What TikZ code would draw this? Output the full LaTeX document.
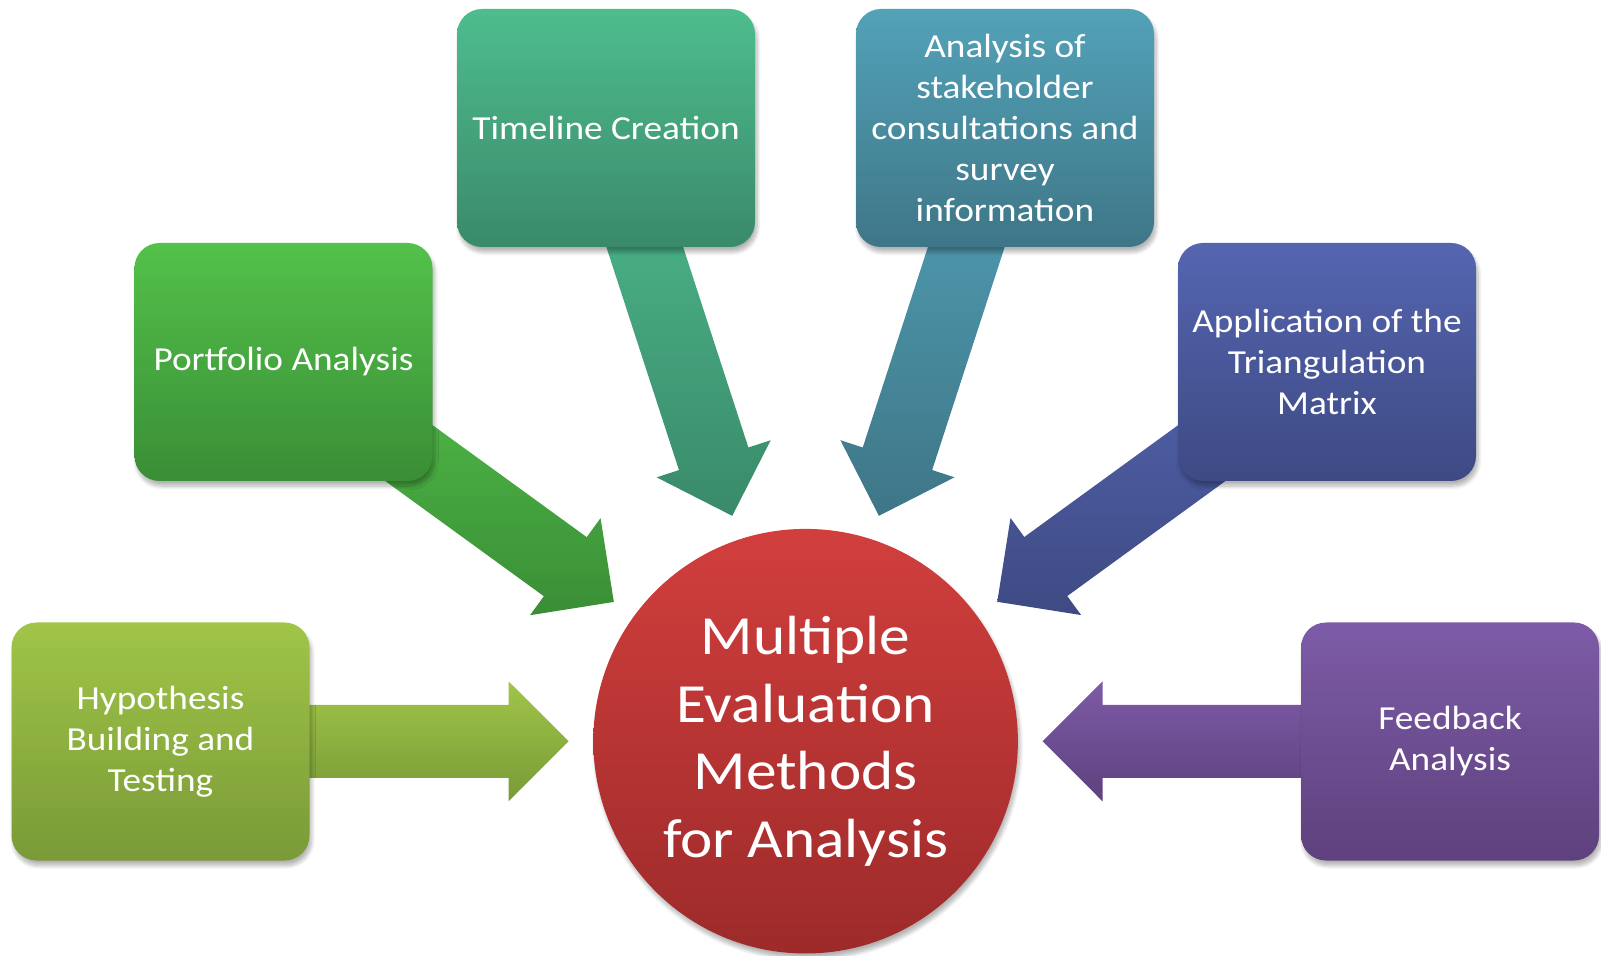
\documentclass[tikz,border=0pt]{standalone}
\usepackage{fontspec}
\setmainfont{Carlito}[FakeStretch=1.11]
\usetikzlibrary{calc,backgrounds,shadows.blur}

\definecolor{hypTop}{RGB}{160,197,72}
\definecolor{hypBot}{RGB}{121,154,55}
\definecolor{porTop}{RGB}{83,193,74}
\definecolor{porBot}{RGB}{58,142,54}
\definecolor{timTop}{RGB}{78,189,142}
\definecolor{timBot}{RGB}{58,138,106}
\definecolor{staTop}{RGB}{83,162,184}
\definecolor{staBot}{RGB}{62,118,135}
\definecolor{appTop}{RGB}{85,101,176}
\definecolor{appBot}{RGB}{61,74,131}
\definecolor{feeTop}{RGB}{125,91,167}
\definecolor{feeBot}{RGB}{94,65,125}
\definecolor{hubTop}{RGB}{209,63,61}
\definecolor{hubBot}{RGB}{157,42,42}

\tikzset{
  methodbox/.style={rounded corners=12.5pt, minimum width=149pt, minimum height=119pt,
    inner sep=2pt, align=center, text=white, font=\fontsize{16.8}{20.5}\selectfont,
    blur shadow={shadow xshift=1pt, shadow yshift=-2.5pt, shadow blur steps=8, shadow opacity=30}},
  hubcircle/.style={circle, minimum size=212.3pt, inner sep=0pt, align=center, text=white,
    font=\fontsize{27.6}{33.7}\selectfont, top color=hubTop, bottom color=hubBot,
    blur shadow={shadow xshift=1pt, shadow yshift=-2.5pt, shadow blur steps=8, shadow opacity=30}}
}

% block arrow from a box towards the hub
\newcommand{\blockarrow}[3]{%
  \coordinate (tip) at ($(hub.center)!118.5pt!(#1.center)$);
  \coordinate (base) at ($(tip)!30pt!(#1.center)$);
  \path[top color=#2, bottom color=#3] (tip) -- ($(base)!30pt!90:(tip)$) -- ($(base)!18.25pt!90:(tip)$)
    -- ($(#1.center)!18.25pt!90:(tip)$) -- ($(#1.center)!18.25pt!-90:(tip)$)
    -- ($(base)!18.25pt!-90:(tip)$) -- ($(base)!30pt!-90:(tip)$) -- cycle;
}

\begin{document}
\begin{tikzpicture}[x=0.5pt,y=-0.5pt]
\useasboundingbox (0,0) rectangle (1601,956);

\node[hubcircle] (hub) at (805.6,741.2) {Multiple\\Evaluation\\Methods\\for Analysis};

\node[methodbox, top color=hypTop, bottom color=hypBot] (hyp) at (160.5,741.5) {Hypothesis\\Building and\\Testing};
\node[methodbox, top color=porTop, bottom color=porBot] (por) at (283.5,362) {Portfolio Analysis};
\node[methodbox, top color=timTop, bottom color=timBot] (tim) at (606,128) {Timeline Creation};
\node[methodbox, top color=staTop, bottom color=staBot] (sta) at (1005,128) {Analysis of\\stakeholder\\consultations and\\survey\\information};
\node[methodbox, top color=appTop, bottom color=appBot] (app) at (1327,362) {Application of the\\Triangulation\\Matrix};
\node[methodbox, top color=feeTop, bottom color=feeBot] (fee) at (1450,741.5) {Feedback\\Analysis};

\begin{scope}[on background layer]
\blockarrow{hyp}{hypTop}{hypBot}
\blockarrow{por}{porTop}{porBot}
\blockarrow{tim}{timTop}{timBot}
\blockarrow{sta}{staTop}{staBot}
\blockarrow{app}{appTop}{appBot}
\blockarrow{fee}{feeTop}{feeBot}
\end{scope}

\end{tikzpicture}
\end{document}
